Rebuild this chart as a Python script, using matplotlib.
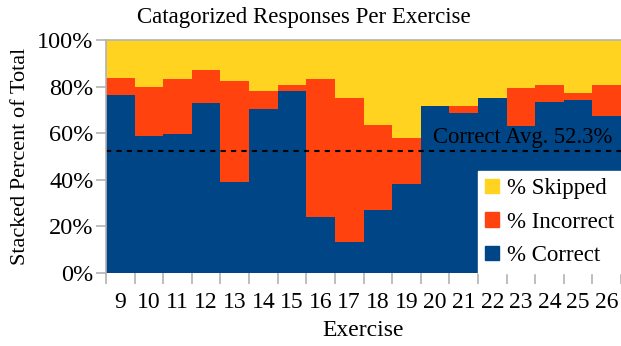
import matplotlib
matplotlib.use('Agg')
import matplotlib.pyplot as plt
import numpy as np
from matplotlib.patches import Patch

exercises = ['9', '10', '11', '12', '13', '14', '15', '16', '17',
             '18', '19', '20', '21', '22', '23', '24', '25', '26']
correct = [76.2, 58.7, 59.5, 72.8, 39.2, 70.2, 78.3, 24.1, 13.5,
           27.0, 38.2, 71.5, 68.6, 74.9, 63.1, 73.6, 74.1, 67.2]
correct_plus_incorrect = [83.9, 80.0, 83.4, 87.2, 82.2, 77.9, 80.9, 83.4, 75.3,
                          63.4, 57.8, 71.5, 71.5, 74.9, 79.6, 80.5, 77.2, 80.5]
correct_avg = 52.3

incorrect = [t - c for t, c in zip(correct_plus_incorrect, correct)]
skipped = [100 - t for t in correct_plus_incorrect]

blue = '#004586'
orange = '#ff420e'
yellow = '#ffd320'
gray = '#b3b3b3'

plt.rcParams['font.family'] = ['Liberation Serif', 'DejaVu Serif']

fig = plt.figure(figsize=(6.21, 3.46), dpi=100)
ax = fig.add_axes([106 / 621, (346 - 273) / 346, 515 / 621, 233 / 346])

x = np.arange(len(exercises))
ax.bar(x, correct, width=1.0, align='edge', color=blue, linewidth=0)
ax.bar(x, incorrect, bottom=correct, width=1.0, align='edge', color=orange, linewidth=0)
ax.bar(x, skipped, bottom=correct_plus_incorrect, width=1.0, align='edge', color=yellow, linewidth=0)

ax.axhline(correct_avg, color='black', linestyle=(0, (2.5, 2.5)), linewidth=1.5)
ax.text(len(exercises) - 0.3, correct_avg + 1.2, 'Correct Avg. %.1f%%' % correct_avg,
        ha='right', va='bottom', fontsize=16.3)

ax.set_xlim(0, len(exercises))
ax.set_ylim(0, 100)

ax.set_yticks(range(0, 101, 20))
ax.set_yticklabels(['%d%%' % v for v in range(0, 101, 20)], fontsize=17.5)
ax.set_xticks(x + 0.5)
ax.set_xticklabels(exercises, fontsize=17)
ax.set_xticks(np.arange(len(exercises) + 1), minor=True)
ax.tick_params(axis='x', which='major', length=0, pad=14)
ax.tick_params(axis='x', which='minor', length=8, color=gray, width=1.2)
ax.tick_params(axis='y', length=7, color=gray, width=1.2, pad=2)

for side in ['right', 'bottom']:
  ax.spines[side].set_visible(False)
ax.spines['left'].set_color(gray)
ax.spines['top'].set_color(gray)
ax.spines['left'].set_linewidth(1.2)
ax.spines['top'].set_linewidth(1.2)

fig.text(0.489, 0.948, 'Catagorized Responses Per Exercise', fontsize=16.5,
         ha='center', va='center')
ax.set_xlabel('Exercise', fontsize=17, labelpad=5)
ax.set_ylabel('Stacked Percent of Total', fontsize=16, labelpad=5)

handles = [Patch(color=yellow, label='% Skipped'),
           Patch(color=orange, label='% Incorrect'),
           Patch(color=blue, label='% Correct')]
legend = ax.legend(handles=handles, loc='lower right', fontsize=16.5, frameon=True,
                   fancybox=False, edgecolor='white', framealpha=1,
                   borderaxespad=0, handlelength=0.6, handleheight=0.6,
                   handletextpad=0.35, labelspacing=0.55, borderpad=0.3)

fig.savefig('out.png', dpi=100)
